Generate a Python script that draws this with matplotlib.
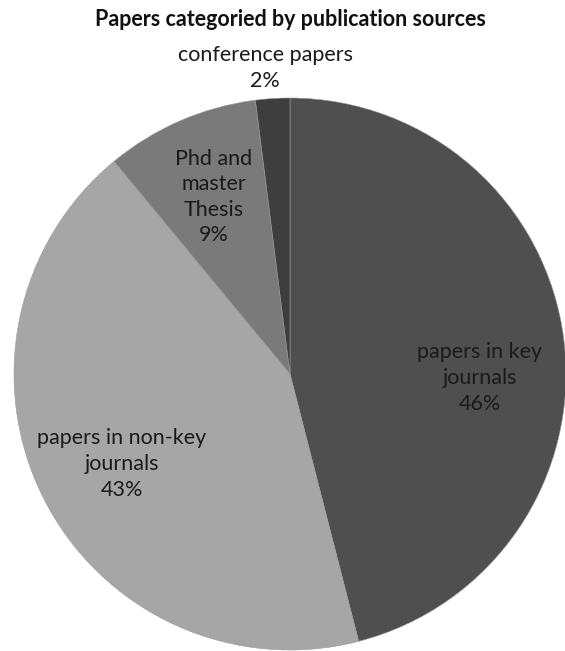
# pie of papers split by where they were published
import matplotlib.pyplot as plt

sources = ['papers in key\njournals', 'papers in non-key\njournals',
           'Phd and\nmaster\nThesis', 'conference papers']
shares = [46, 43, 9, 2]
shades = ['#4f4f4f', '#a6a6a6', '#7a7a7a', '#3e3e3e']

plt.rcParams['font.family'] = ['Lato', 'DejaVu Sans']

W, H = 565, 651
fig = plt.figure(figsize=(W / 100, H / 100), dpi=100)
ax = fig.add_axes([0, 0, 1, 1])
ax.set_xlim(0, W)
ax.set_ylim(0, H)
ax.set_aspect('equal')
ax.axis('off')

wedges, _ = ax.pie(shares, colors=shades, startangle=90, counterclock=False,
                   center=(290, H - 374), radius=276,
                   wedgeprops=dict(edgecolor='#9a9a9a', linewidth=0.4))
ax.set_xlim(0, W)
ax.set_ylim(0, H)

# label spots (pixels from top-left) for each slice
spots = [(480, 378), (122, 464), (214, 197), (265, 68)]
for name, val, (x, y) in zip(sources, shares, spots):
    ax.text(x, H - y, f'{name}\n{val}%', ha='center', va='center',
            fontsize=15.5, color='#1a1a1a', linespacing=1.35)

fig.text(290 / W, 1 - 20 / H, 'Papers categoried by publication sources',
         ha='center', va='center', fontsize=15.5, fontweight='bold', color='#111111')

fig.savefig('out.png', dpi=100, facecolor='white')
